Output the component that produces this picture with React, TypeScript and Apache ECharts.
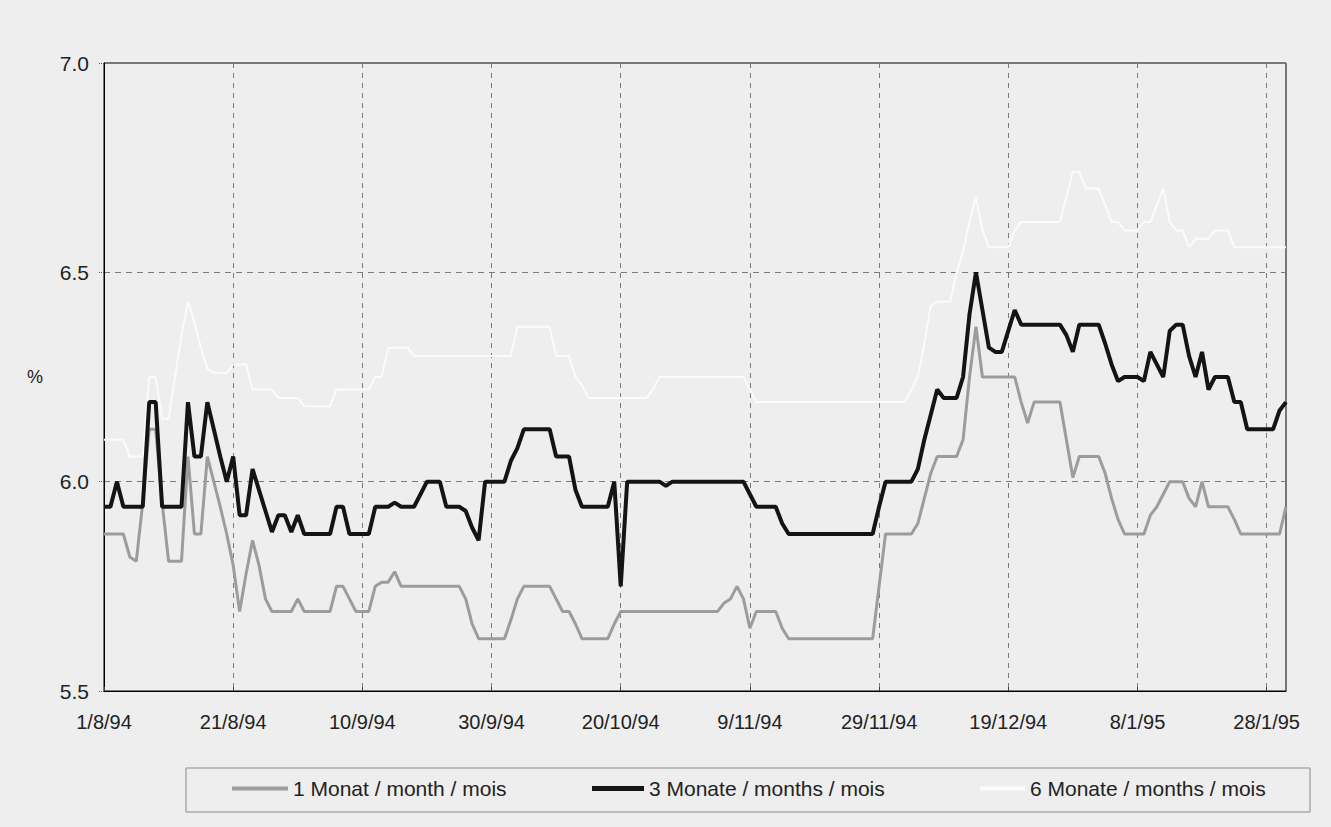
import React, { useEffect, useRef } from "react";
import * as echarts from "echarts";

const seriesNames = [
  "1 Monat / month / mois",
  "3 Monate / months / mois",
  "6 Monate / months / mois",
];
const yMin = 5.5;
const yMax = 7.0;
const yStep = 0.5;
const dayCount = 184; // 1/8/94 .. 31/1/95

// 1 Monat
const m1 = [
  5.875, 5.875, 5.875, 5.875, 5.82, 5.81, 5.95, 6.125, 6.125, 5.95,
  5.81, 5.81, 5.81, 6.06, 5.875, 5.875, 6.06, 6.0, 5.94, 5.875,
  5.8, 5.69, 5.78, 5.86, 5.8, 5.72, 5.69, 5.69, 5.69, 5.69,
  5.72, 5.69, 5.69, 5.69, 5.69, 5.69, 5.75, 5.75, 5.72, 5.69,
  5.69, 5.69, 5.75, 5.76, 5.76, 5.785, 5.75, 5.75, 5.75, 5.75,
  5.75, 5.75, 5.75, 5.75, 5.75, 5.75, 5.72, 5.66, 5.625, 5.625,
  5.625, 5.625, 5.625, 5.67, 5.72, 5.75, 5.75, 5.75, 5.75, 5.75,
  5.72, 5.69, 5.69, 5.66, 5.625, 5.625, 5.625, 5.625, 5.625, 5.66,
  5.69, 5.69, 5.69, 5.69, 5.69, 5.69, 5.69, 5.69, 5.69, 5.69,
  5.69, 5.69, 5.69, 5.69, 5.69, 5.69, 5.71, 5.72, 5.75, 5.72,
  5.65, 5.69, 5.69, 5.69, 5.69, 5.65, 5.625, 5.625, 5.625, 5.625,
  5.625, 5.625, 5.625, 5.625, 5.625, 5.625, 5.625, 5.625, 5.625, 5.625,
  5.75, 5.875, 5.875, 5.875, 5.875, 5.875, 5.9, 5.96, 6.02, 6.06,
  6.06, 6.06, 6.06, 6.1, 6.25, 6.37, 6.25, 6.25, 6.25, 6.25,
  6.25, 6.25, 6.19, 6.14, 6.19, 6.19, 6.19, 6.19, 6.19, 6.1,
  6.01, 6.06, 6.06, 6.06, 6.06, 6.02, 5.96, 5.91, 5.875, 5.875,
  5.875, 5.875, 5.92, 5.94, 5.97, 6.0, 6.0, 6.0, 5.96, 5.94,
  6.0, 5.94, 5.94, 5.94, 5.94, 5.91, 5.875, 5.875, 5.875, 5.875,
  5.875, 5.875, 5.875, 5.94,
];

// 3 Monate
const m3 = [
  5.94, 5.94, 6.0, 5.94, 5.94, 5.94, 5.94, 6.19, 6.19, 5.94,
  5.94, 5.94, 5.94, 6.19, 6.06, 6.06, 6.19, 6.125, 6.06, 6.0,
  6.06, 5.92, 5.92, 6.03, 5.98, 5.93, 5.88, 5.92, 5.92, 5.88,
  5.92, 5.875, 5.875, 5.875, 5.875, 5.875, 5.94, 5.94, 5.875, 5.875,
  5.875, 5.875, 5.94, 5.94, 5.94, 5.95, 5.94, 5.94, 5.94, 5.97,
  6.0, 6.0, 6.0, 5.94, 5.94, 5.94, 5.93, 5.89, 5.86, 6.0,
  6.0, 6.0, 6.0, 6.05, 6.08, 6.125, 6.125, 6.125, 6.125, 6.125,
  6.06, 6.06, 6.06, 5.98, 5.94, 5.94, 5.94, 5.94, 5.94, 6.0,
  5.75, 6.0, 6.0, 6.0, 6.0, 6.0, 6.0, 5.99, 6.0, 6.0,
  6.0, 6.0, 6.0, 6.0, 6.0, 6.0, 6.0, 6.0, 6.0, 6.0,
  5.97, 5.94, 5.94, 5.94, 5.94, 5.9, 5.875, 5.875, 5.875, 5.875,
  5.875, 5.875, 5.875, 5.875, 5.875, 5.875, 5.875, 5.875, 5.875, 5.875,
  5.94, 6.0, 6.0, 6.0, 6.0, 6.0, 6.03, 6.1, 6.16, 6.22,
  6.2, 6.2, 6.2, 6.25, 6.4, 6.5, 6.41, 6.32, 6.31, 6.31,
  6.36, 6.41, 6.375, 6.375, 6.375, 6.375, 6.375, 6.375, 6.375, 6.35,
  6.31, 6.375, 6.375, 6.375, 6.375, 6.33, 6.28, 6.24, 6.25, 6.25,
  6.25, 6.24, 6.31, 6.28, 6.25, 6.36, 6.375, 6.375, 6.3, 6.25,
  6.31, 6.22, 6.25, 6.25, 6.25, 6.19, 6.19, 6.125, 6.125, 6.125,
  6.125, 6.125, 6.17, 6.19,
];

// 6 Monate
const m6 = [
  6.1, 6.1, 6.1, 6.1, 6.06, 6.06, 6.06, 6.25, 6.25, 6.15,
  6.15, 6.25, 6.35, 6.43, 6.38, 6.32, 6.27, 6.26, 6.26, 6.26,
  6.28, 6.28, 6.28, 6.22, 6.22, 6.22, 6.22, 6.2, 6.2, 6.2,
  6.2, 6.18, 6.18, 6.18, 6.18, 6.18, 6.22, 6.22, 6.22, 6.22,
  6.22, 6.22, 6.25, 6.25, 6.32, 6.32, 6.32, 6.32, 6.3, 6.3,
  6.3, 6.3, 6.3, 6.3, 6.3, 6.3, 6.3, 6.3, 6.3, 6.3,
  6.3, 6.3, 6.3, 6.3, 6.37, 6.37, 6.37, 6.37, 6.37, 6.37,
  6.3, 6.3, 6.3, 6.25, 6.23, 6.2, 6.2, 6.2, 6.2, 6.2,
  6.2, 6.2, 6.2, 6.2, 6.2, 6.22, 6.25, 6.25, 6.25, 6.25,
  6.25, 6.25, 6.25, 6.25, 6.25, 6.25, 6.25, 6.25, 6.25, 6.25,
  6.22, 6.19, 6.19, 6.19, 6.19, 6.19, 6.19, 6.19, 6.19, 6.19,
  6.19, 6.19, 6.19, 6.19, 6.19, 6.19, 6.19, 6.19, 6.19, 6.19,
  6.19, 6.19, 6.19, 6.19, 6.19, 6.22, 6.25, 6.33, 6.42, 6.43,
  6.43, 6.43, 6.5, 6.55, 6.62, 6.68, 6.6, 6.56, 6.56, 6.56,
  6.56, 6.6, 6.62, 6.62, 6.62, 6.62, 6.62, 6.62, 6.62, 6.68,
  6.74, 6.74, 6.7, 6.7, 6.7, 6.66, 6.62, 6.62, 6.6, 6.6,
  6.6, 6.62, 6.62, 6.66, 6.7, 6.62, 6.6, 6.6, 6.56, 6.58,
  6.58, 6.58, 6.6, 6.6, 6.6, 6.56, 6.56, 6.56, 6.56, 6.56,
  6.56, 6.56, 6.56, 6.56,
];

function makeDates(): string[] {
  const out: string[] = [];
  const start = new Date(1994, 7, 1);
  for (let i = 0; i < dayCount; i++) {
    const d = new Date(start.getFullYear(), start.getMonth(), start.getDate() + i);
    const yy = String(d.getFullYear()).slice(2);
    out.push(`${d.getDate()}/${d.getMonth() + 1}/${yy}`);
  }
  return out;
}
const dates = makeDates();

const FONT = "Arial, 'Liberation Sans', sans-serif";
const BG = "#eeeeee";

export default function App() {
  const ref = useRef<HTMLDivElement>(null);
  useEffect(() => {
    if (!ref.current) return;
    const chart = echarts.init(ref.current, null, { renderer: "svg" });
    const legendBase = {
      orient: "horizontal",
      top: 778,
      padding: 0,
      itemHeight: 4,
      icon: "rect",
      selectedMode: false,
      textStyle: { fontFamily: FONT, fontSize: 21, color: "#222" },
    };
    chart.setOption({
      animation: false,
      backgroundColor: BG,
      textStyle: { fontFamily: FONT },
      grid: {
        left: 104,
        right: 45,
        top: 63,
        bottom: 136,
        show: true,
        borderColor: "#000",
        borderWidth: 1,
        backgroundColor: "transparent",
      },
      legend: [
        { ...legendBase, left: 232, itemWidth: 56, data: [seriesNames[0]] },
        { ...legendBase, left: 592, itemWidth: 52, itemHeight: 5, data: [seriesNames[1]] },
        { ...legendBase, left: 980, itemWidth: 45, data: [seriesNames[2]] },
      ],
      xAxis: {
        type: "category",
        boundaryGap: false,
        data: dates,
        axisLine: { show: true, lineStyle: { color: "#000", width: 1 } },
        axisTick: { show: true, interval: 19, length: 4, inside: true, lineStyle: { color: "#444" } },
        axisLabel: {
          interval: 19,
          margin: 21,
          fontSize: 20,
          fontFamily: FONT,
          color: "#222",
        },
        splitLine: {
          show: true,
          interval: 19,
          lineStyle: { color: "#7a7a7a", type: [5, 5], width: 1 },
        },
      },
      yAxis: {
        type: "value",
        min: yMin,
        max: yMax,
        interval: yStep,
        axisLine: { show: true, lineStyle: { color: "#000", width: 1 } },
        axisTick: { show: true, length: 5, lineStyle: { color: "#555", type: "dotted" } },
        axisLabel: {
          margin: 15,
          fontSize: 21,
          fontFamily: FONT,
          color: "#222",
          formatter: (v: number) => v.toFixed(1),
        },
        splitLine: {
          show: true,
          lineStyle: { color: "#7a7a7a", type: [6, 5], width: 1 },
        },
      },
      series: [
        {
          name: seriesNames[2],
          type: "line",
          data: m6,
          symbol: "none",
          color: "#fbfbfb",
          lineStyle: { color: "#fbfbfb", width: 2 },
          z: 2,
        },
        {
          name: seriesNames[0],
          type: "line",
          data: m1,
          symbol: "none",
          color: "#9c9c9c",
          lineStyle: { color: "#9c9c9c", width: 3 },
          z: 3,
        },
        {
          name: seriesNames[1],
          type: "line",
          data: m3,
          symbol: "none",
          color: "#141414",
          lineStyle: { color: "#141414", width: 4 },
          z: 4,
        },
      ],
      graphic: [
        {
          type: "text",
          left: 27,
          top: 368,
          style: { text: "%", fontSize: 18, fontFamily: FONT, fill: "#222" },
        },
        {
          type: "rect",
          shape: { x: 186, y: 768, width: 1124, height: 44 },
          style: { fill: "transparent", stroke: "#8a8a8a", lineWidth: 1 },
          z: -1,
        },
      ],
    });
    return () => chart.dispose();
  }, []);
  return (
    <div
      ref={ref}
      style={{ position: "fixed", left: 0, top: 0, width: 1331, height: 827 }}
    />
  );
}
